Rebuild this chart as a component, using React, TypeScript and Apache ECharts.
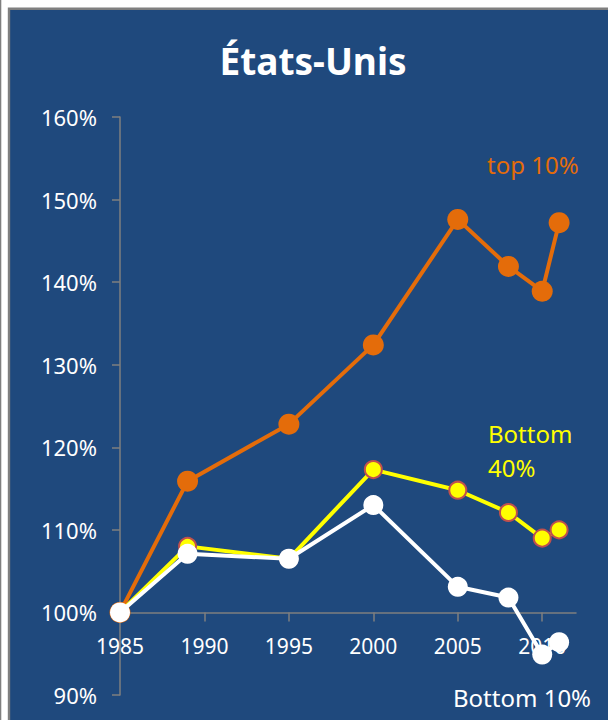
import React, { useEffect, useRef } from "react";
import * as echarts from "echarts";

const years = [1985, 1989, 1995, 2000, 2005, 2008, 2010, 2011];
const top10 = [100, 115.9, 122.8, 132.4, 147.6, 141.9, 138.9, 147.2];
const bottom40 = [100, 108.0, 106.5, 117.3, 114.8, 112.1, 109.0, 110.0];
const bottom10 = [100, 107.1, 106.5, 113.0, 103.1, 101.8, 94.9, 96.4];
const xTicks = [1985, 1990, 1995, 2000, 2005, 2010];
const yMin = 90;
const yMax = 160;
const yStep = 10;
const xCross = 100;

const BG = "#1F497D";
const ORANGE = "#E46C0A";
const YELLOW = "#FFFF00";
const RED = "#C0504D";
const GRAY = "#7F7F7F";
const FONT = "Noto Sans";

export default function App() {
  const ref = useRef<HTMLDivElement>(null);
  useEffect(() => {
    if (!ref.current) return;
    const chart = echarts.init(ref.current, undefined, { renderer: "svg" });
    const gridTop = 117;
    const gridBottom = 25;
    const gridH = 720 - gridTop - gridBottom;
    const axisOffset = -((xCross - yMin) / (yMax - yMin)) * gridH;
    const pair = (arr: number[]) => years.map((y, i) => [y, arr[i]]);
    chart.setOption({
      animation: false,
      backgroundColor: "#ffffff",
      textStyle: { fontFamily: FONT },
      grid: { left: 120, right: 32, top: gridTop, bottom: gridBottom },
      graphic: [
        { type: "rect", z: -10, shape: { x: 0, y: 0, width: 1.3, height: 720 }, style: { fill: GRAY } },
        {
          type: "rect",
          z: -10,
          shape: { x: 9, y: 8.7, width: 620, height: 730 },
          style: { fill: BG, stroke: GRAY, lineWidth: 2.4 },
        },
        {
          type: "text",
          z: 10,
          x: 313,
          y: 60,
          style: {
            text: "États-Unis",
            fill: "#ffffff",
            font: `bold 37px "${FONT}"`,
            textAlign: "center",
            textVerticalAlign: "middle",
          },
        },
        {
          type: "text",
          z: 10,
          x: 487,
          y: 164,
          style: { text: "top 10%", fill: ORANGE, font: `24px "${FONT}"`, textAlign: "left", textVerticalAlign: "middle" },
        },
        {
          type: "text",
          z: 10,
          x: 488,
          y: 433,
          style: { text: "Bottom", fill: YELLOW, font: `24px "${FONT}"`, textAlign: "left", textVerticalAlign: "middle" },
        },
        {
          type: "text",
          z: 10,
          x: 488,
          y: 467,
          style: { text: "40%", fill: YELLOW, font: `24px "${FONT}"`, textAlign: "left", textVerticalAlign: "middle" },
        },
        {
          type: "text",
          z: 10,
          x: 453,
          y: 697,
          style: { text: "Bottom 10%", fill: "#ffffff", font: `24px "${FONT}"`, textAlign: "left", textVerticalAlign: "middle" },
        },
      ],
      xAxis: {
        type: "value",
        min: 1985,
        max: 2012,
        interval: 5,
        position: "bottom",
        offset: axisOffset,
        splitLine: { show: false },
        axisLine: { show: true, onZero: false, lineStyle: { color: GRAY, width: 1.5 } },
        axisTick: { show: true, inside: false, length: 9, customValues: xTicks, lineStyle: { color: GRAY, width: 1.5 } },
        axisLabel: {
          show: true,
          customValues: xTicks,
          color: "#ffffff",
          fontSize: 21,
          fontFamily: FONT,
          margin: 23,
          formatter: (v: number) => String(v),
        },
      },
      yAxis: {
        type: "value",
        min: yMin,
        max: yMax,
        interval: yStep,
        splitLine: { show: false },
        axisLine: { show: true, lineStyle: { color: GRAY, width: 1.5 } },
        axisTick: { show: true, inside: false, length: 8, lineStyle: { color: GRAY, width: 1.5 } },
        axisLabel: {
          color: "#ffffff",
          fontSize: 22,
          fontFamily: FONT,
          margin: 23,
          formatter: "{value}%",
        },
      },
      series: [
        {
          type: "line",
          name: "top 10%",
          data: pair(top10),
          symbol: "circle",
          symbolSize: 21,
          lineStyle: { color: ORANGE, width: 4 },
          itemStyle: { color: ORANGE },
          z: 2,
        },
        {
          type: "line",
          name: "Bottom 40%",
          data: pair(bottom40),
          symbol: "circle",
          symbolSize: 17,
          lineStyle: { color: YELLOW, width: 4 },
          itemStyle: { color: YELLOW, borderColor: RED, borderWidth: 2 },
          z: 3,
        },
        {
          type: "line",
          name: "Bottom 10%",
          data: pair(bottom10),
          symbol: "circle",
          symbolSize: 20,
          lineStyle: { color: "#ffffff", width: 4 },
          itemStyle: { color: "#ffffff" },
          z: 4,
        },
      ],
    });
    return () => chart.dispose();
  }, []);
  return (
    <div
      ref={ref}
      style={{ position: "absolute", left: 0, top: 0, width: 608, height: 720 }}
    />
  );
}
